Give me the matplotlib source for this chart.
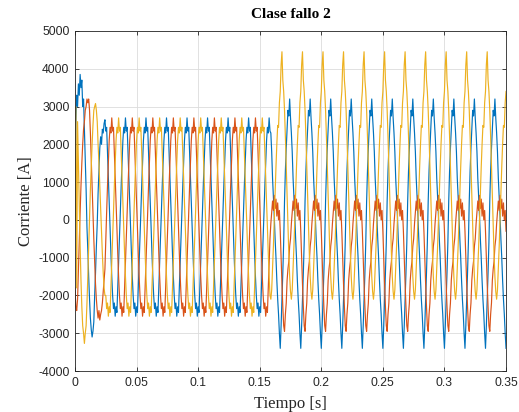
import numpy as np
import matplotlib
matplotlib.use("Agg")
import matplotlib.pyplot as plt

# muestreo: 24 muestras por ciclo de 60 Hz
f_red = 60
n_ciclo = 24
dt = 1 / (f_red * n_ciclo)
t_fin = 0.35
k_falla = 229  # muestra donde empieza la falla (~0.159 s)

# transitorio de arranque (36 muestras, 0 - 0.025 s)
ia_ini = [300, 2500, 3300, 3000, 3600, 3300, 3850, 3500, 3700, 3000, 3200, 2400,
          1500, 800, -200, -800, -1500, -2100, -2600, -2900, -3100, -2950, -2700, -2000,
          -1400, -700, -100, 700, 1300, 1900, 2200, 2000, 2400, 2300, 2550, 2650]
ib_ini = [-1800, -2300, -2400, -2100, -1300, -600, 200, 900, 1500, 2000, 2400, 2600,
          2900, 3000, 3200, 3100, 3200, 2900, 2300, 1600, 900, 200, -500, -1100,
          -1700, -2100, -2400, -2600, -2400, -2650, -2500, -2400, -2200, -1900, -1600, -1300]
ic_ini = [0, 3000, -1800, 2600, 1500, 300, -700, -1600, -2300, -2800, -3000, -3270,
          -3000, -2800, -2200, -1500, -700, 100, 800, 1400, 2000, 2500, 2900, 3000,
          3080, 2900, 2600, 2000, 1500, 900, 300, -300, -900, -1400, -1800, -2000]

# ciclo en regimen antes de la falla (pico en la primera muestra)
ciclo_pre = [2700, 2350, 2450, 1800, 1200, 500, -200, -900, -1500, -2000, -2350, -2200,
             -2550, -2300, -2450, -1800, -1200, -500, 200, 900, 1500, 2100, 2450, 2300]
pico_pre = {"a": 11, "b": 19, "c": 3}  # muestra del pico dentro del ciclo

# ciclo durante la falla (muestra 0 = inicio de cada ciclo de 60 Hz)
ia_falla = [-3400, -2800, -2100, -1400, -600, 500, 1300, 1900, 2400, 2900, 2750, 3200,
            2700, 2300, 1800, 1100, 600, 100, -500, -1000, -1600, -2100, -2500, -3000]
ib_falla = [-300, -1000, -1700, -2300, -2800, -2950, -2500, -2200, -1600, -1300, -1100, -700,
            -500, -100, 200, 500, 250, 650, 300, 550, 100, 450, 0, 250]
ic_falla = [3400, 4100, 4450, 3700, 3400, 2900, 2200, 1400, 600, -200, -900, -1500,
            -1900, -2100, -1850, -1300, -700, 0, 700, 1400, 2000, 2500, 2450, 3100]

k = np.arange(int(round(t_fin / dt)) + 1)
t = k * dt


def armar(ini, pico, falla):
    pre = np.roll(ciclo_pre, pico)
    y = np.where(k < k_falla, pre[k % n_ciclo], np.array(falla)[k % n_ciclo]).astype(float)
    y[:len(ini)] = ini
    return y


ia = armar(ia_ini, pico_pre["a"], ia_falla)
ib = armar(ib_ini, pico_pre["b"], ib_falla)
ic = armar(ic_ini, pico_pre["c"], ic_falla)

fig = plt.figure(figsize=(5.19, 4.12), dpi=100)
ax = fig.add_axes([0.1445, 0.0995, 0.8305, 0.8253])

ax.plot(t, ia, color="#0072BD", lw=0.85)
ax.plot(t, ib, color="#D95319", lw=0.85)
ax.plot(t, ic, color="#EDB120", lw=0.85)

ax.set_xlim(0, 0.35)
ax.set_ylim(-4000, 5000)
xt = [0, 0.05, 0.1, 0.15, 0.2, 0.25, 0.3, 0.35]
ax.set_xticks(xt)
ax.set_xticklabels(["0", "0.05", "0.1", "0.15", "0.2", "0.25", "0.3", "0.35"])
yt = list(range(-4000, 5001, 1000))
ax.set_yticks(yt)
ax.set_yticklabels([str(v) for v in yt])

ax.grid(True, color="#dcdcdc", lw=0.6)
ax.set_axisbelow(True)
ax.tick_params(direction="in", top=True, right=True, length=3, width=0.6,
               labelsize=8.7, colors="#262626", pad=4)
for lbl in ax.get_xticklabels() + ax.get_yticklabels():
    lbl.set_family("Liberation Sans")
for s in ax.spines.values():
    s.set_color("#262626")
    s.set_linewidth(0.6)

ax.set_xlabel("Tiempo [s]", family="Liberation Serif", fontsize=12, color="#262626", labelpad=5)
ax.set_ylabel("Corriente [A]", family="Liberation Serif", fontsize=12, color="#262626", labelpad=3)
ax.set_title("Clase fallo 2", family="Liberation Serif", fontsize=11, fontweight="bold", pad=9)

fig.savefig("out.png", dpi=100)
